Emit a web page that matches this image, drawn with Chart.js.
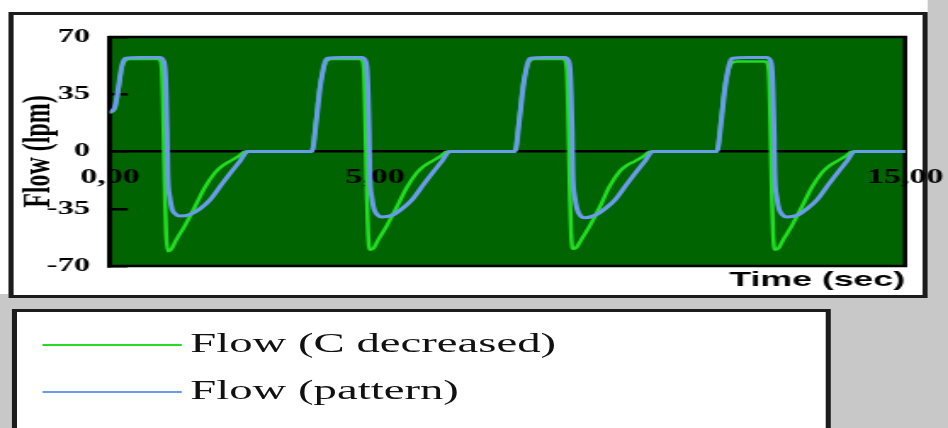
<!DOCTYPE html>
<html>
<head>
<meta charset="utf-8">
<script src="https://cdn.jsdelivr.net/npm/chart.js@4/dist/chart.umd.min.js"></script>
<style>
    html, body { margin: 0; padding: 0; }
    body { width: 948px; height: 428px; overflow: hidden; background: #c8c8c8; position: relative; }
    /* the original picture is stretched sideways, so the whole stage is too */
    #stage { position: absolute; left: 0; top: 0; width: 558px; height: 428px; transform: scaleX(1.699); transform-origin: 0 0; }
    #whiteArea { position: absolute; left: 0; top: 0; width: 546px; height: 294px; background: #fff; }
    #chartBox { position: absolute; left: 4.7px; top: 12px; width: 541px; height: 286px; box-sizing: border-box; border: 3px solid #1c1c1c; background: #fff; }
    #flowChart { position: absolute; left: 0; top: 0; }
    #legendBox { position: absolute; left: 7px; top: 309px; width: 482px; height: 140px; box-sizing: border-box; border: 3px solid #1c1c1c; background: #fff; }
    .legendLine { position: absolute; left: 25.3px; width: 81.8px; height: 2.5px; }
    .legendText { position: absolute; left: 112px; font-family: "Liberation Serif", serif; font-size: 27.5px; line-height: 30px; color: #111; white-space: nowrap; }
</style>
</head>
<body>
<div id="stage">
    <div id="whiteArea"></div>
    <div id="chartBox"></div>
    <canvas id="flowChart" width="558" height="300"></canvas>
    <div id="legendBox"></div>
    <div id="legendItems"></div>
</div>
<script>
// Flow (C decreased)
const greenTime = [
    0, 0.09, 0.15, 0.23, 0.28, 0.38, 0.91, 0.94, 0.98, 1.00, 1.02, 1.04, 1.06, 1.09, 1.15, 1.25, 1.42, 1.60, 1.79, 1.98, 2.11, 2.26, 2.42, 2.55,
    3.81, 3.89, 3.96, 4.04, 4.09, 4.19, 4.72, 4.75, 4.79, 4.81, 4.83, 4.85, 4.87, 4.90, 4.96, 5.06, 5.23, 5.41, 5.60, 5.79, 5.92, 6.07, 6.23, 6.36,
    7.64, 7.72, 7.79, 7.87, 7.92, 8.02, 8.55, 8.58, 8.62, 8.64, 8.66, 8.68, 8.70, 8.73, 8.79, 8.89, 9.06, 9.24, 9.43, 9.62, 9.75, 9.90, 10.06, 10.19,
    11.45, 11.53, 11.60, 11.68, 11.73, 11.83, 12.36, 12.39, 12.43, 12.45, 12.47, 12.49, 12.51, 12.54, 12.60, 12.70, 12.87, 13.05, 13.24, 13.43, 13.56, 13.71, 13.87, 14.00, 15.00
];
const greenFlow = [
    24, 26, 36, 52, 55.5, 56.5, 56.5, 56, 50, 30, 0, -30, -50, -61, -60, -54, -45, -34, -22, -13, -9, -6, -3, 0,
    0, 20, 40, 52, 55.5, 56.5, 56.5, 56, 50, 30, 0, -30, -50, -60, -59.5, -54, -45, -34, -22, -13, -9, -6, -3, 0,
    0, 20, 40, 52, 55.5, 56.5, 56.5, 56, 50, 30, 0, -30, -50, -59.5, -59, -54, -45, -34, -21, -12, -8.5, -6, -3, 0,
    0, 20, 40, 51, 54, 55, 55, 54.5, 49, 30, 0, -30, -50, -60, -59.5, -54, -45, -34, -22, -13, -9, -6, -3, 0, 0
];

// Flow (pattern)
const blueTime = [
    0, 0.09, 0.15, 0.21, 0.25, 0.30, 0.57, 0.94, 1.00, 1.04, 1.06, 1.08, 1.09, 1.13, 1.17, 1.23, 1.32, 1.51, 1.70, 1.89, 2.11, 2.30, 2.45, 2.60,
    3.81, 3.89, 3.96, 4.02, 4.06, 4.11, 4.38, 4.75, 4.81, 4.85, 4.87, 4.89, 4.90, 4.94, 4.98, 5.04, 5.13, 5.32, 5.51, 5.70, 5.92, 6.11, 6.26, 6.41,
    7.64, 7.72, 7.79, 7.85, 7.89, 7.94, 8.21, 8.58, 8.64, 8.68, 8.70, 8.72, 8.73, 8.77, 8.81, 8.87, 8.96, 9.15, 9.34, 9.53, 9.75, 9.94, 10.09, 10.24,
    11.45, 11.53, 11.60, 11.66, 11.70, 11.75, 12.02, 12.39, 12.45, 12.49, 12.51, 12.53, 12.54, 12.58, 12.62, 12.68, 12.77, 12.96, 13.15, 13.34, 13.56, 13.75, 13.90, 14.05, 15.00
];
const blueFlow = [
    24, 27, 37, 50, 55, 57, 57.5, 57.5, 56, 50, 35, 10, -12, -28, -35, -38, -39.5, -38.5, -35, -29.5, -20, -12, -6, 0,
    0, 18, 38, 50, 55, 57, 57.5, 57.5, 56, 50, 35, 10, -12, -28, -35, -38.5, -40, -39, -35, -29.5, -20, -12, -6, 0,
    0, 18, 38, 50, 55, 57, 57.5, 57.5, 56, 50, 35, 10, -12, -28, -35, -39, -40.5, -39, -35, -29.5, -20, -12, -6, 0,
    0, 18, 38, 50, 55, 57, 57.5, 57.5, 56, 50, 35, 10, -12, -28, -35, -38.5, -40, -39, -35, -29.5, -20, -12, -6, 0, 0
];

const seriesLabels = ["Flow (C decreased)", "Flow (pattern)"];
const seriesColors = ["#22dd22", "#6b9ceb"];

const yTicks = [-70, -35, 0, 35, 70];
const xTickValues = [0, 5, 10, 15];
const xTickLabels = ["0,00", "5,00", "", "15,00"];

function toPoints(times, values) {
    return times.map((t, i) => ({ x: t, y: values[i] }));
}

// green plot area with a black frame
const plotBackground = {
    id: "plotBackground",
    beforeDraw(chart) {
        const { ctx, chartArea: a } = chart;
        ctx.save();
        ctx.fillStyle = "#006400";
        ctx.fillRect(a.left, a.top, a.width, a.height);
        ctx.strokeStyle = "#000";
        ctx.lineWidth = 2.5;
        ctx.strokeRect(a.left, a.top, a.width, a.height);
        ctx.restore();
    }
};

const serifFont = "'Liberation Serif', 'Times New Roman', serif";

Chart.defaults.font.family = "'Liberation Sans', Arial, sans-serif";
Chart.defaults.color = "#000";

new Chart(document.getElementById("flowChart"), {
    type: "line",
    data: {
        datasets: [
            {
                label: seriesLabels[0],
                data: toPoints(greenTime, greenFlow),
                borderColor: seriesColors[0],
                borderWidth: 2.5,
                order: 2
            },
            {
                label: seriesLabels[1],
                data: toPoints(blueTime, blueFlow),
                borderColor: seriesColors[1],
                borderWidth: 3,
                order: 1
            }
        ]
    },
    options: {
        responsive: false,
        animation: false,
        events: [],
        elements: {
            point: { radius: 0 },
            line: { cubicInterpolationMode: "monotone", borderJoinStyle: "round", borderCapStyle: "round" }
        },
        layout: { padding: { left: 0, right: 25.3, top: 37, bottom: 0 } },
        plugins: {
            legend: { display: false },
            tooltip: { enabled: false },
            title: {
                display: true,
                text: "Time (sec)",
                position: "bottom",
                align: "end",
                color: "#000",
                font: { family: "'Liberation Sans', Arial, sans-serif", size: 21, weight: "bold" },
                padding: { top: 2, bottom: 6.8 }
            }
        },
        scales: {
            x: {
                type: "linear",
                position: { y: 0 },
                min: 0,
                max: 15,
                afterBuildTicks: s => { s.ticks = xTickValues.map(v => ({ value: v })); },
                // the end labels may hang over the plot edge, as in the original
                afterFit: s => { s.paddingLeft = 0; s.paddingRight = 0; },
                ticks: {
                    padding: 14,
                    maxRotation: 0,
                    autoSkip: false,
                    font: { family: serifFont, size: 20, weight: "bold" },
                    callback: v => xTickLabels[xTickValues.indexOf(v)]
                },
                grid: { display: false, drawTicks: false },
                border: { display: true, color: "#000", width: 2.5 }
            },
            y: {
                min: -70,
                max: 70,
                afterBuildTicks: s => { s.ticks = yTicks.map(v => ({ value: v })); },
                afterFit: s => { s.width = 64.7; },
                ticks: {
                    padding: 22.3,
                    font: { family: serifFont, size: 19, weight: "bold" }
                },
                grid: { drawOnChartArea: false, drawTicks: true, tickLength: -10.5, color: "#000", lineWidth: 2.5 },
                border: { display: true, color: "#000", width: 2.5 },
                title: {
                    display: true,
                    text: "Flow (lpm)",
                    color: "#000",
                    font: { family: serifFont, size: 24, weight: "bold" },
                    padding: { top: 8, bottom: 0 }
                }
            }
        }
    },
    plugins: [plotBackground]
});

// legend box below the chart
const legendItems = document.getElementById("legendItems");
const rowCenters = [345, 392];
seriesLabels.forEach((label, i) => {
    legendItems.innerHTML += `
        <div class="legendLine" style="top:${rowCenters[i] - 1.25}px;background:${seriesColors[i]}"></div>
        <div class="legendText" style="top:${rowCenters[i] - 17}px">${label}</div>
    `;
});
</script>
</body>
</html>
